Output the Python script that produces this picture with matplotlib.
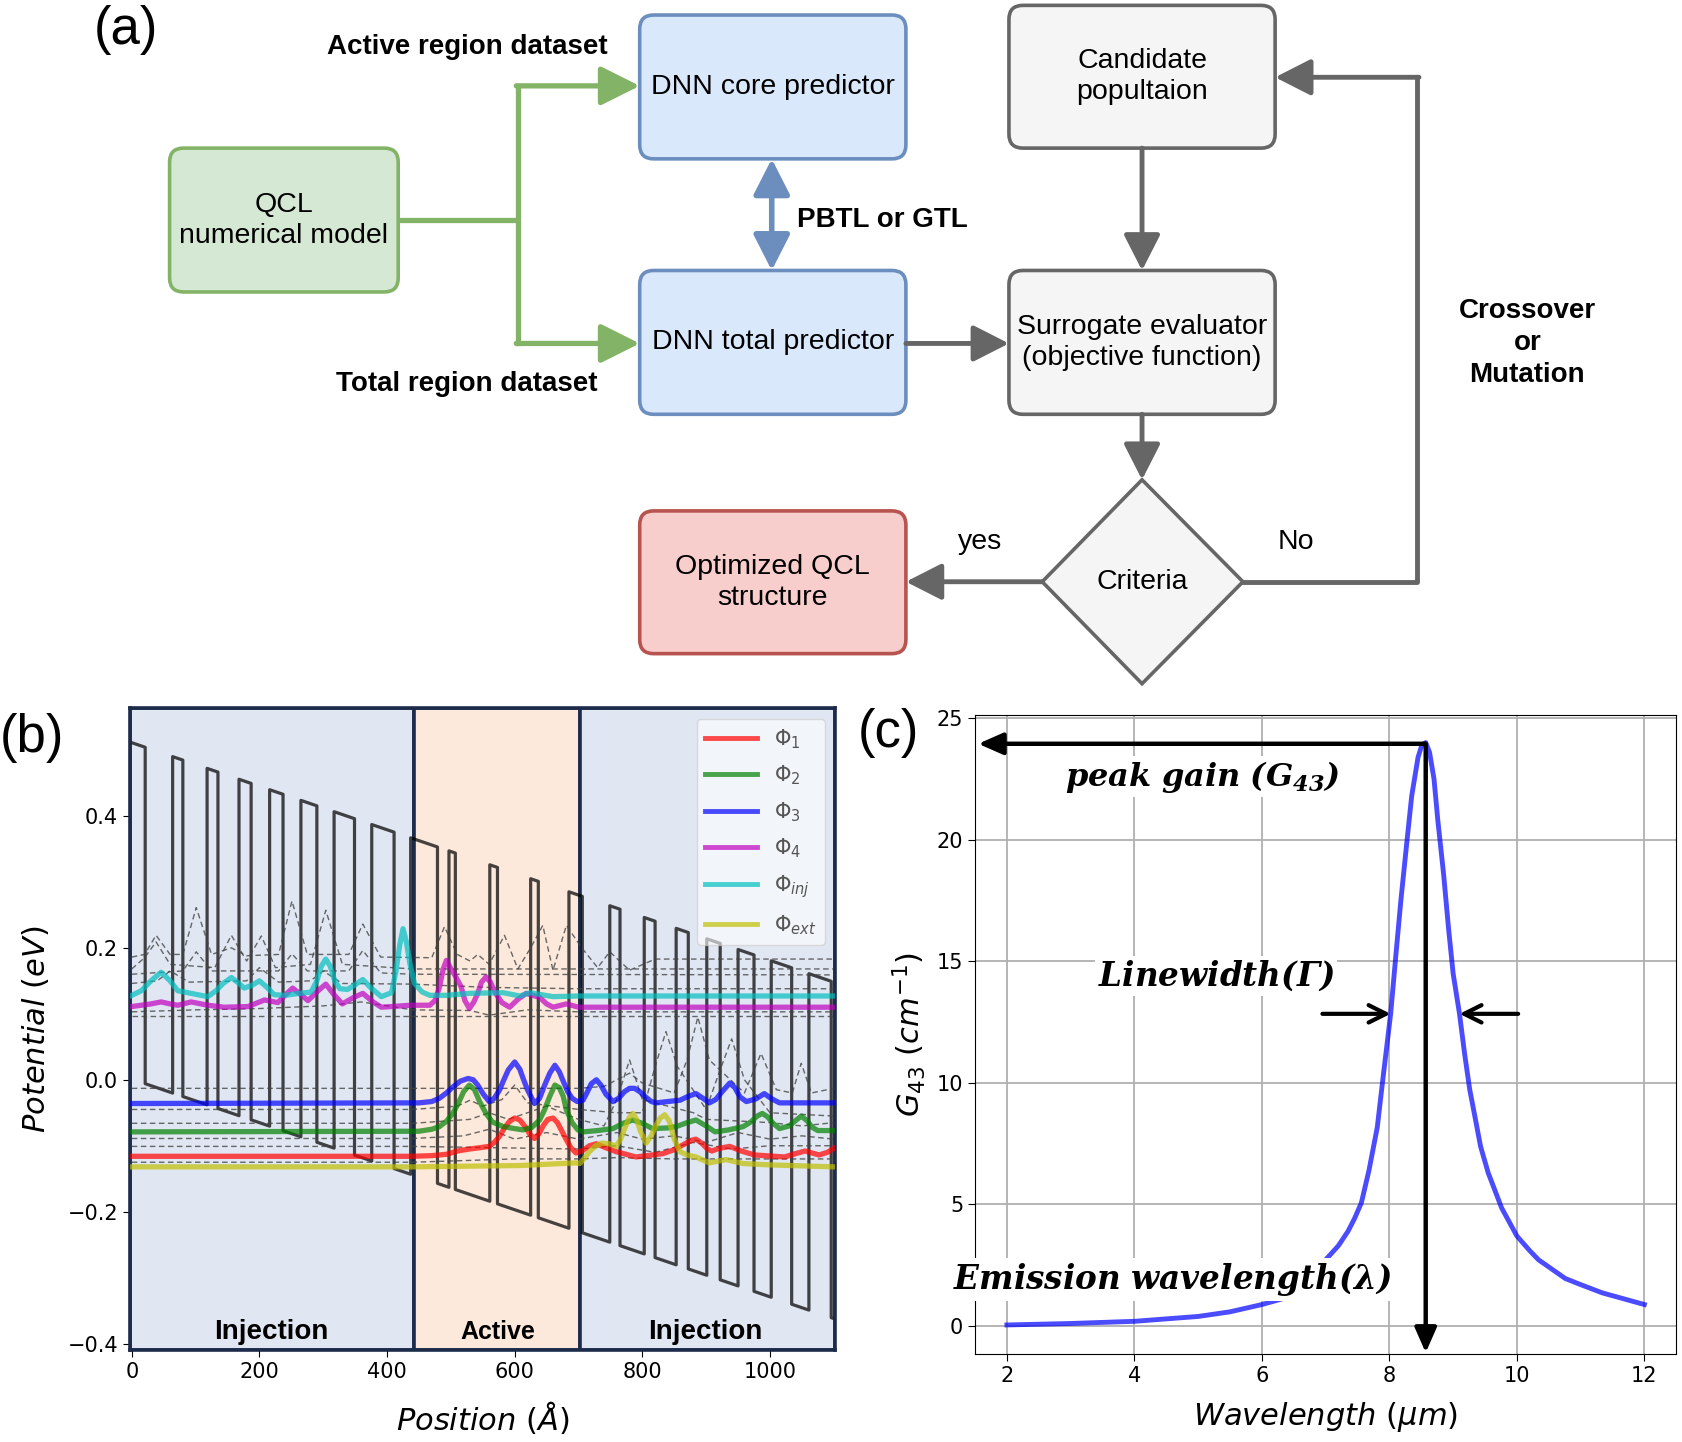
import matplotlib.pyplot as plt
from matplotlib.patches import FancyBboxPatch, Polygon
from matplotlib.lines import Line2D

plt.rcParams['mathtext.fontset'] = 'custom'
plt.rcParams['mathtext.rm'] = 'DejaVu Sans'
plt.rcParams['mathtext.it'] = 'DejaVu Sans:italic'
plt.rcParams['mathtext.bf'] = 'DejaVu Serif:italic:bold'

# ---------------- data: (b) band structure ----------------
# one period of the layer stack (Angstrom), barrier / well alternating
barrier_w = [21, 16, 17, 19, 21, 25, 32, 35, 42, 10, 12, 12]
well_w = [43, 38, 33, 29, 28, 27, 27, 26, 18, 54, 52, 48]
v_top0 = 0.511      # barrier top at x=0 (eV)
band_offset = 0.51  # conduction band offset (eV)
field = 0.00033     # applied bias (eV / Angstrom)
x_end = 1100
region_edges = [-3, 442, 702, 1102]
region_names = ["Injection", "Active", "Injection"]
region_label_x = [218, 573, 899]

phi1_x = [0, 440, 470, 493, 510, 529, 545, 560, 568, 576, 584, 592, 600, 608, 617, 624, 631, 638, 645, 652, 660, 667, 674, 681, 688, 696, 707, 717, 728, 740, 759, 790, 832, 850, 865, 876, 884, 893, 902, 909, 920, 937, 955, 976, 1023, 1040, 1055, 1066, 1077, 1090, 1100]
phi1_y = [-0.116, -0.116, -0.115, -0.113, -0.108, -0.105, -0.103, -0.101, -0.095, -0.086, -0.073, -0.063, -0.058, -0.061, -0.072, -0.083, -0.089, -0.082, -0.069, -0.060, -0.058, -0.065, -0.078, -0.091, -0.103, -0.111, -0.107, -0.100, -0.097, -0.102, -0.109, -0.117, -0.112, -0.106, -0.098, -0.092, -0.090, -0.096, -0.105, -0.108, -0.104, -0.101, -0.108, -0.114, -0.117, -0.112, -0.108, -0.111, -0.114, -0.110, -0.104]
phi2_x = [0, 450, 470, 482, 493, 503, 512, 520, 529, 537, 545, 555, 565, 582, 600, 613, 627, 639, 647, 655, 663, 670, 676, 681, 690, 699, 707, 730, 754, 770, 785, 800, 816, 840, 853, 870, 884, 900, 914, 935, 958, 970, 980, 988, 996, 1005, 1015, 1030, 1040, 1049, 1058, 1066, 1075, 1100]
phi2_y = [-0.079, -0.078, -0.075, -0.071, -0.063, -0.051, -0.035, -0.018, -0.008, -0.015, -0.033, -0.051, -0.064, -0.071, -0.074, -0.076, -0.072, -0.061, -0.045, -0.025, -0.008, -0.012, -0.025, -0.046, -0.065, -0.076, -0.079, -0.077, -0.074, -0.066, -0.061, -0.066, -0.074, -0.073, -0.071, -0.065, -0.061, -0.070, -0.079, -0.076, -0.071, -0.064, -0.055, -0.051, -0.056, -0.066, -0.074, -0.070, -0.062, -0.055, -0.062, -0.072, -0.077, -0.077]
phi3_x = [0, 450, 470, 482, 493, 503, 515, 527, 535, 542, 551, 560, 568, 576, 583, 590, 600, 608, 614, 620, 631, 639, 647, 655, 663, 670, 676, 683, 690, 698, 707, 713, 720, 728, 735, 743, 754, 763, 772, 780, 788, 796, 805, 814, 822, 840, 859, 872, 884, 895, 905, 915, 925, 937, 945, 953, 963, 978, 991, 1003, 1015, 1100]
phi3_y = [-0.036, -0.035, -0.033, -0.028, -0.020, -0.011, -0.002, 0.002, 0.000, -0.008, -0.022, -0.033, -0.028, -0.016, 0.000, 0.015, 0.027, 0.016, 0.000, -0.015, -0.036, -0.028, -0.008, 0.010, 0.022, 0.012, -0.002, -0.018, -0.028, -0.033, -0.031, -0.020, -0.006, 0.000, -0.008, -0.022, -0.033, -0.028, -0.018, -0.013, -0.013, -0.018, -0.026, -0.033, -0.035, -0.033, -0.031, -0.025, -0.021, -0.028, -0.035, -0.030, -0.018, -0.005, -0.012, -0.026, -0.033, -0.029, -0.021, -0.029, -0.035, -0.035]
phi4_x = [0, 30, 46, 60, 72, 93, 119, 145, 182, 208, 229, 240, 252, 264, 276, 292, 304, 316, 330, 346, 362, 378, 391, 437, 467, 475, 482, 488, 493, 499, 506, 516, 522, 529, 536, 542, 548, 555, 562, 570, 580, 592, 605, 618, 628, 639, 650, 660, 681, 700, 1100]
phi4_y = [0.111, 0.115, 0.118, 0.115, 0.113, 0.118, 0.113, 0.110, 0.111, 0.121, 0.117, 0.128, 0.139, 0.130, 0.120, 0.135, 0.145, 0.130, 0.115, 0.124, 0.131, 0.118, 0.110, 0.113, 0.113, 0.120, 0.140, 0.168, 0.181, 0.170, 0.159, 0.141, 0.120, 0.108, 0.118, 0.131, 0.148, 0.156, 0.148, 0.131, 0.117, 0.110, 0.122, 0.131, 0.128, 0.125, 0.115, 0.110, 0.115, 0.110, 0.110]
phiinj_x = [0, 15, 30, 46, 60, 72, 98, 119, 132, 143, 156, 168, 176, 188, 200, 212, 223, 240, 255, 281, 290, 297, 304, 311, 318, 326, 338, 350, 362, 374, 391, 407, 414, 420, 425, 430, 436, 443, 455, 467, 493, 529, 582, 608, 624, 660, 700, 1100]
phiinj_y = [0.128, 0.135, 0.150, 0.163, 0.150, 0.135, 0.130, 0.126, 0.135, 0.146, 0.155, 0.146, 0.139, 0.143, 0.150, 0.140, 0.129, 0.128, 0.130, 0.133, 0.150, 0.172, 0.183, 0.172, 0.150, 0.138, 0.137, 0.144, 0.152, 0.140, 0.126, 0.132, 0.165, 0.205, 0.229, 0.210, 0.175, 0.146, 0.133, 0.128, 0.128, 0.131, 0.132, 0.127, 0.132, 0.126, 0.127, 0.127]
phiext_x = [0, 440, 608, 696, 702, 710, 717, 727, 737, 748, 759, 766, 772, 779, 785, 791, 797, 806, 814, 820, 828, 835, 842, 850, 859, 870, 884, 905, 931, 958, 999, 1100]
phiext_y = [-0.132, -0.132, -0.130, -0.126, -0.127, -0.118, -0.109, -0.100, -0.096, -0.097, -0.101, -0.090, -0.075, -0.058, -0.051, -0.060, -0.078, -0.096, -0.085, -0.072, -0.058, -0.053, -0.062, -0.090, -0.109, -0.114, -0.117, -0.126, -0.121, -0.127, -0.129, -0.132]

# other (unlabelled) states, drawn dashed
other_x = [
    [0, 20, 38, 60, 80, 101, 125, 156, 180, 230, 251, 275, 340, 362, 390, 470, 490, 510, 530, 542, 560, 584, 605, 625, 644, 660, 681, 705, 730, 749, 780, 820, 1100],
    [0, 20, 38, 60, 130, 156, 180, 203, 225, 280, 304, 330, 440, 700, 1100],
    [0, 80, 101, 125, 230, 251, 275, 340, 362, 390, 440, 1100],
    [0, 40, 60, 90, 180, 200, 230, 280, 300, 330, 440, 560, 700, 1100],
    [0, 100, 200, 300, 360, 440, 530, 560, 620, 700, 1100],
    [0, 440, 700, 1100],
    [0, 700, 740, 760, 780, 800, 850, 870, 887, 905, 960, 986, 1010, 1035, 1049, 1065, 1100],
    [0, 440, 510, 530, 550, 580, 600, 620, 700, 760, 800, 820, 837, 855, 900, 920, 940, 960, 1000, 1100],
    [0, 440, 530, 560, 590, 650, 700, 740, 760, 780, 800, 880, 900, 1000, 1050, 1100],
    [0, 440, 520, 560, 600, 650, 700, 760, 800, 850, 900, 950, 1000, 1050, 1100],
    [0, 440, 700, 760, 820, 880, 940, 1000, 1100],
    [0, 440, 600, 700, 760, 850, 1100],
]
other_y = [
    [0.186, 0.190, 0.219, 0.190, 0.190, 0.261, 0.190, 0.200, 0.188, 0.190, 0.271, 0.190, 0.190, 0.236, 0.186, 0.185, 0.232, 0.190, 0.180, 0.190, 0.175, 0.219, 0.168, 0.200, 0.234, 0.166, 0.234, 0.200, 0.170, 0.194, 0.166, 0.183, 0.183],
    [0.168, 0.185, 0.209, 0.175, 0.170, 0.219, 0.180, 0.218, 0.170, 0.175, 0.257, 0.175, 0.168, 0.168, 0.168],
    [0.160, 0.165, 0.194, 0.165, 0.165, 0.191, 0.165, 0.165, 0.196, 0.162, 0.160, 0.159],
    [0.146, 0.150, 0.165, 0.148, 0.150, 0.170, 0.148, 0.150, 0.165, 0.146, 0.145, 0.140, 0.138, 0.138],
    [0.103, 0.106, 0.108, 0.112, 0.118, 0.106, 0.105, 0.098, 0.106, 0.103, 0.103],
    [0.097, 0.097, 0.097, 0.097],
    [-0.013, -0.013, -0.010, 0.000, 0.010, -0.005, -0.020, 0.030, 0.095, 0.030, -0.020, 0.040, -0.015, -0.020, 0.025, -0.020, -0.013],
    [-0.045, -0.045, -0.040, -0.031, -0.040, -0.030, -0.008, -0.035, -0.045, -0.050, -0.050, 0.020, 0.073, 0.020, -0.045, 0.010, 0.062, 0.000, -0.050, -0.055],
    [-0.066, -0.066, -0.060, -0.050, -0.060, -0.040, -0.060, -0.070, -0.030, 0.030, -0.030, -0.050, -0.060, -0.065, -0.070, -0.065],
    [-0.089, -0.089, -0.085, -0.075, -0.090, -0.080, -0.090, -0.080, -0.090, -0.085, -0.095, -0.080, -0.090, -0.085, -0.090],
    [-0.101, -0.101, -0.105, -0.100, -0.110, -0.095, -0.105, -0.100, -0.100],
    [-0.125, -0.125, -0.120, -0.120, -0.118, -0.120, -0.120],
]

# ---------------- data: (c) gain spectrum ----------------
gain_wl = [2.0, 3.0, 4.0, 5.0, 5.5, 6.0, 6.3, 6.6, 6.8, 7.0, 7.2, 7.35, 7.45, 7.56, 7.68, 7.81, 7.9, 8.02, 8.1, 8.18, 8.27, 8.35, 8.45, 8.51, 8.57, 8.63, 8.7, 8.76, 8.85, 8.93, 9.0, 9.1, 9.18, 9.26, 9.35, 9.43, 9.55, 9.76, 10.0, 10.2, 10.34, 10.76, 11.0, 11.34, 12.0]
gain = [0.04, 0.10, 0.19, 0.39, 0.58, 0.88, 1.10, 1.46, 2.0, 2.72, 3.3, 3.89, 4.4, 5.06, 6.4, 8.17, 10.2, 12.84, 15.2, 17.5, 19.8, 21.8, 23.4, 23.9, 24.0, 23.6, 22.5, 20.8, 18.6, 16.3, 14.5, 12.84, 11.2, 9.73, 8.5, 7.39, 6.3, 4.86, 3.70, 3.1, 2.72, 1.95, 1.7, 1.36, 0.88]
peak_wl, peak_gain = 8.57, 23.95
lw_left, lw_right, lw_level = 8.02, 9.1, 12.84

# ---------------- figure ----------------
W, H = 1568, 1343.5   # layout units (scaled pixels)
fig = plt.figure(figsize=(16.83, 14.42), dpi=100)
ax0 = fig.add_axes([0, 0, 1, 1])
ax0.set_xlim(0, W)
ax0.set_ylim(H, 0)
ax0.axis('off')

BOX_FONT = dict(family='Liberation Sans', fontsize=20.5, ha='center', va='center', linespacing=1.25)
BOLD_FONT = dict(family='Liberation Sans', fontsize=20, fontweight='bold', va='center')


def rbox(x0, y0, x1, y1, fc, ec, text):
    p = FancyBboxPatch((x0, y0), x1 - x0, y1 - y0, boxstyle="round,pad=0,rounding_size=13",
                       fc=fc, ec=ec, lw=2.6)
    ax0.add_patch(p)
    ax0.text((x0 + x1) / 2, (y0 + y1) / 2, text, **BOX_FONT)


def arrow(p0, p1, color, lw=3.5, style='-|>,head_length=0.6,head_width=0.3', ms=40):
    ax0.annotate('', xy=p1, xytext=p0,
                 arrowprops=dict(arrowstyle=style, color=color, lw=lw, mutation_scale=ms,
                                 shrinkA=0, shrinkB=0))


green_e, blue_e, gray_e = '#82b366', '#6c8ebf', '#666666'
rbox(158, 138, 371, 272, '#d5e8d4', green_e, "QCL\nnumerical model")
rbox(596, 14, 844, 148, '#dae8fc', blue_e, "DNN core predictor")
rbox(596, 252, 844, 386, '#dae8fc', blue_e, "DNN total predictor")
rbox(940, 5, 1188, 138, '#f5f5f5', gray_e, "Candidate\npopultaion")
rbox(940, 252, 1188, 386, '#f5f5f5', gray_e, "Surrogate evaluator\n(objective function)")
rbox(596, 476, 844, 609, '#f8cecc', '#b85450', "Optimized QCL\nstructure")
ax0.add_patch(Polygon([(1064, 447), (1158, 542), (1064, 637), (971, 542)], closed=True,
                      fc='#f5f5f5', ec=gray_e, lw=2.6))
ax0.text(1064, 542, "Criteria", **BOX_FONT)

# green connectors
ax0.plot([371, 483], [205, 205], color=green_e, lw=3.8, solid_capstyle='butt')
ax0.plot([483, 483], [80, 320], color=green_e, lw=3.8)
arrow((481, 80), (596, 80), green_e, lw=3.8)
arrow((481, 320), (596, 320), green_e, lw=3.8)
# blue two-way link
arrow((719, 252), (719, 148), blue_e, lw=4, style='<|-|>,head_length=0.55,head_width=0.28')

# gray connectors
gstyle = '-|>,head_length=0.55,head_width=0.28'
arrow((844, 320), (940, 320), gray_e, style=gstyle)
arrow((1064, 138), (1064, 252), gray_e, style=gstyle)
arrow((1064, 386), (1064, 447), gray_e, style=gstyle)
arrow((971, 542), (844, 542), gray_e, style=gstyle)
ax0.plot([1158, 1320, 1320], [542, 542, 72], color=gray_e, lw=3.5)
arrow((1322, 72), (1188, 72), gray_e, style=gstyle)

ax0.text(435, 44, "Active region dataset", ha='center', **BOLD_FONT)
ax0.text(435, 358, "Total region dataset", ha='center', **BOLD_FONT)
ax0.text(743, 205, "PBTL or GTL", ha='left', **BOLD_FONT)
ax0.text(1423, 320, "Crossover\nor\nMutation", ha='center', linespacing=1.3, **BOLD_FONT)
ax0.text(913, 505, "yes", family='Liberation Sans', fontsize=20.5, ha='center', va='center')
ax0.text(1207, 505, "No", family='Liberation Sans', fontsize=20.5, ha='center', va='center')

for lab, (px, py) in zip(["(a)", "(b)", "(c)"], [(117, 28), (30, 688), (828, 683)]):
    ax0.text(px, py, lab, family='Liberation Sans', fontsize=38, ha='center', va='center')

# ---------------- (b) ----------------
navy = '#1c2b4a'
axb = fig.add_axes([121 / W, 1 - 1258 / H, 657 / W, 598 / H])
region_colors = ['#e1e7f2', '#fce9dc', '#e1e7f2']
for i in range(3):
    axb.axvspan(region_edges[i], region_edges[i + 1], fc=region_colors[i], ec=navy, lw=2.6, zorder=0)
    axb.text(region_label_x[i], -0.382, region_names[i], family='Liberation Sans',
             fontsize=20 if i != 1 else 18, fontweight='bold', ha='center', va='center', zorder=6)

# conduction band profile built from the layer stack
period = [w for pair in zip(barrier_w, well_w) for w in pair]
prof_x, prof_y = [], []
x, k = 0.0, 0
while x < x_end:
    x1 = min(x + period[k % len(period)], x_end)
    off = 0.0 if k % 2 == 0 else -band_offset
    prof_x += [x, x1]
    prof_y += [v_top0 + off - field * x, v_top0 + off - field * x1]
    x, k = x1, k + 1
axb.plot(prof_x, prof_y, color='k', alpha=0.72, lw=2.3, zorder=2)

for ox, oy in zip(other_x, other_y):
    axb.plot(ox, oy, color='#444444', ls=(0, (4, 2.5)), lw=1.0, alpha=0.8, zorder=3)

states = [(phi1_x, phi1_y, 'r', r'$\Phi_1$'), (phi2_x, phi2_y, 'g', r'$\Phi_2$'),
          (phi3_x, phi3_y, 'b', r'$\Phi_3$'), (phi4_x, phi4_y, 'm', r'$\Phi_4$'),
          (phiinj_x, phiinj_y, 'c', r'$\Phi_{inj}$'), (phiext_x, phiext_y, 'y', r'$\Phi_{ext}$')]
handles = []
for sx, sy, col, lab in states:
    axb.plot(sx, sy, color=col, alpha=0.7, lw=3.8, zorder=4, solid_joinstyle='round')
    handles.append(Line2D([], [], color=col, alpha=0.7, lw=3.5, label=lab))

axb.set_xlim(region_edges[0], region_edges[-1])
axb.set_ylim(-0.41, 0.563)
axb.set_xticks([0, 200, 400, 600, 800, 1000])
axb.set_yticks([-0.4, -0.2, 0.0, 0.2, 0.4])
axb.tick_params(labelsize=15, length=5)
for s in axb.spines.values():
    s.set_color(navy)
    s.set_linewidth(2.6)
axb.set_xlabel(r'$Position\ (\AA)$', fontsize=22, labelpad=12)
axb.set_ylabel(r'$Potential\ (eV)$', fontsize=22, labelpad=12)
leg = axb.legend(handles=handles, loc='upper right', fontsize=15, handlelength=2.5,
                 labelspacing=0.62, framealpha=0.6, edgecolor='#c8c8c8', labelcolor='#555555')
leg.set_zorder(7)

# ---------------- (c) ----------------
axc = fig.add_axes([908.4 / W, 1 - 1261.4 / H, 653.3 / W, 595.6 / H])
axc.plot(gain_wl, gain, color='b', alpha=0.7, lw=3.5, zorder=3, solid_joinstyle='round')
axc.set_xlim(1.5, 12.5)
axc.set_ylim(-1.15, 25.15)
axc.set_xticks([2, 4, 6, 8, 10, 12])
axc.set_yticks([0, 5, 10, 15, 20, 25])
axc.grid(True, color='#b0b0b0', lw=1.3)
axc.set_axisbelow(True)
axc.tick_params(labelsize=15, length=5)
axc.set_xlabel(r'$Wavelength\ (\mu m)$', fontsize=22, labelpad=10)
axc.set_ylabel(r'$G_{43}\ (cm^{-1})$', fontsize=22, labelpad=6)

ap = dict(arrowstyle='-|>,head_length=0.5,head_width=0.22', color='k', lw=3.2,
          mutation_scale=30, shrinkA=0, shrinkB=0)
axc.annotate('', xy=(1.55, peak_gain), xytext=(peak_wl, peak_gain), arrowprops=ap, zorder=5)
axc.annotate('', xy=(peak_wl, -1.1), xytext=(peak_wl, peak_gain), arrowprops=ap, zorder=5)
ap2 = dict(arrowstyle='->,head_length=0.5,head_width=0.25', color='k', lw=3,
           mutation_scale=25, shrinkA=0, shrinkB=0)
axc.annotate('', xy=(lw_left, lw_level), xytext=(6.95, lw_level), arrowprops=ap2)
axc.annotate('', xy=(lw_right, lw_level), xytext=(10.02, lw_level), arrowprops=ap2)

wbox = dict(fc='white', ec='none', pad=2)
axc.text(5.06, 22.6, r'$\mathbf{peak\ gain\ (G_{43})}$', fontsize=23, ha='center', va='center',
         bbox=wbox, zorder=4)
axc.text(5.28, 14.4, r'$\mathbf{Linewidth(\Gamma)}$', fontsize=23.5, ha='center', va='center',
         bbox=wbox, zorder=4)
axc.text(4.6, 1.9, r'$\mathbf{Emission\ wavelength(\lambda)}$', fontsize=23.5, ha='center',
         va='center', bbox=wbox, zorder=4)

fig.savefig('out.png', dpi=100)
